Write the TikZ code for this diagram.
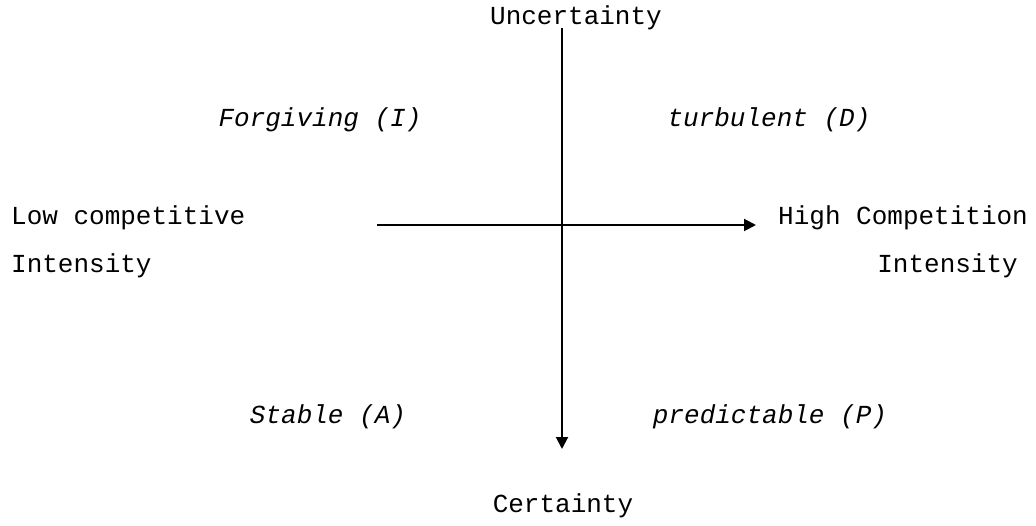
\documentclass[tikz,border=0pt]{standalone}
\usepackage{fontspec}
\setmonofont{Liberation Mono}
\usetikzlibrary{arrows.meta}

\begin{document}
\begin{tikzpicture}[x=1pt,y=-1pt,>={Triangle[length=12pt,width=12pt]},
  lbl/.style={font=\ttfamily\fontsize{26}{30}\selectfont,inner sep=0pt,anchor=base},
  env/.style={lbl,font=\ttfamily\itshape\fontsize{26}{30}\selectfont},
  axis/.style={line width=2pt,->}]
  \useasboundingbox (0,0) rectangle (1036,526);
  % axes
  \coordinate (up) at (562,28);
  \coordinate (down) at (562,449);
  \coordinate (lo) at (377,225);
  \coordinate (hi) at (756,225);
  \draw[axis] (lo) -- (hi);
  \draw[axis] (up) -- (down);
  % axis ends
  \node[lbl] (unc) at (576,25) {Uncertainty};
  \node[lbl] (cer) at (563,512) {Certainty};
  \node[lbl,anchor=base west] (low) at (11,225) {Low competitive};
  \node[lbl,anchor=base west] (lowi) at (11,273) {Intensity};
  \node[lbl,anchor=base west] (high) at (778,225) {High Competition};
  \node[lbl,anchor=base east] (highi) at (1018,273) {Intensity};
  % quadrants
  \node[env] (forg) at (320,127) {Forgiving (I)};
  \node[env] (turb) at (769,127) {turbulent (D)};
  \node[env] (stab) at (328,423) {Stable (A)};
  \node[env] (pred) at (770,423) {predictable (P)};
\end{tikzpicture}
\end{document}
